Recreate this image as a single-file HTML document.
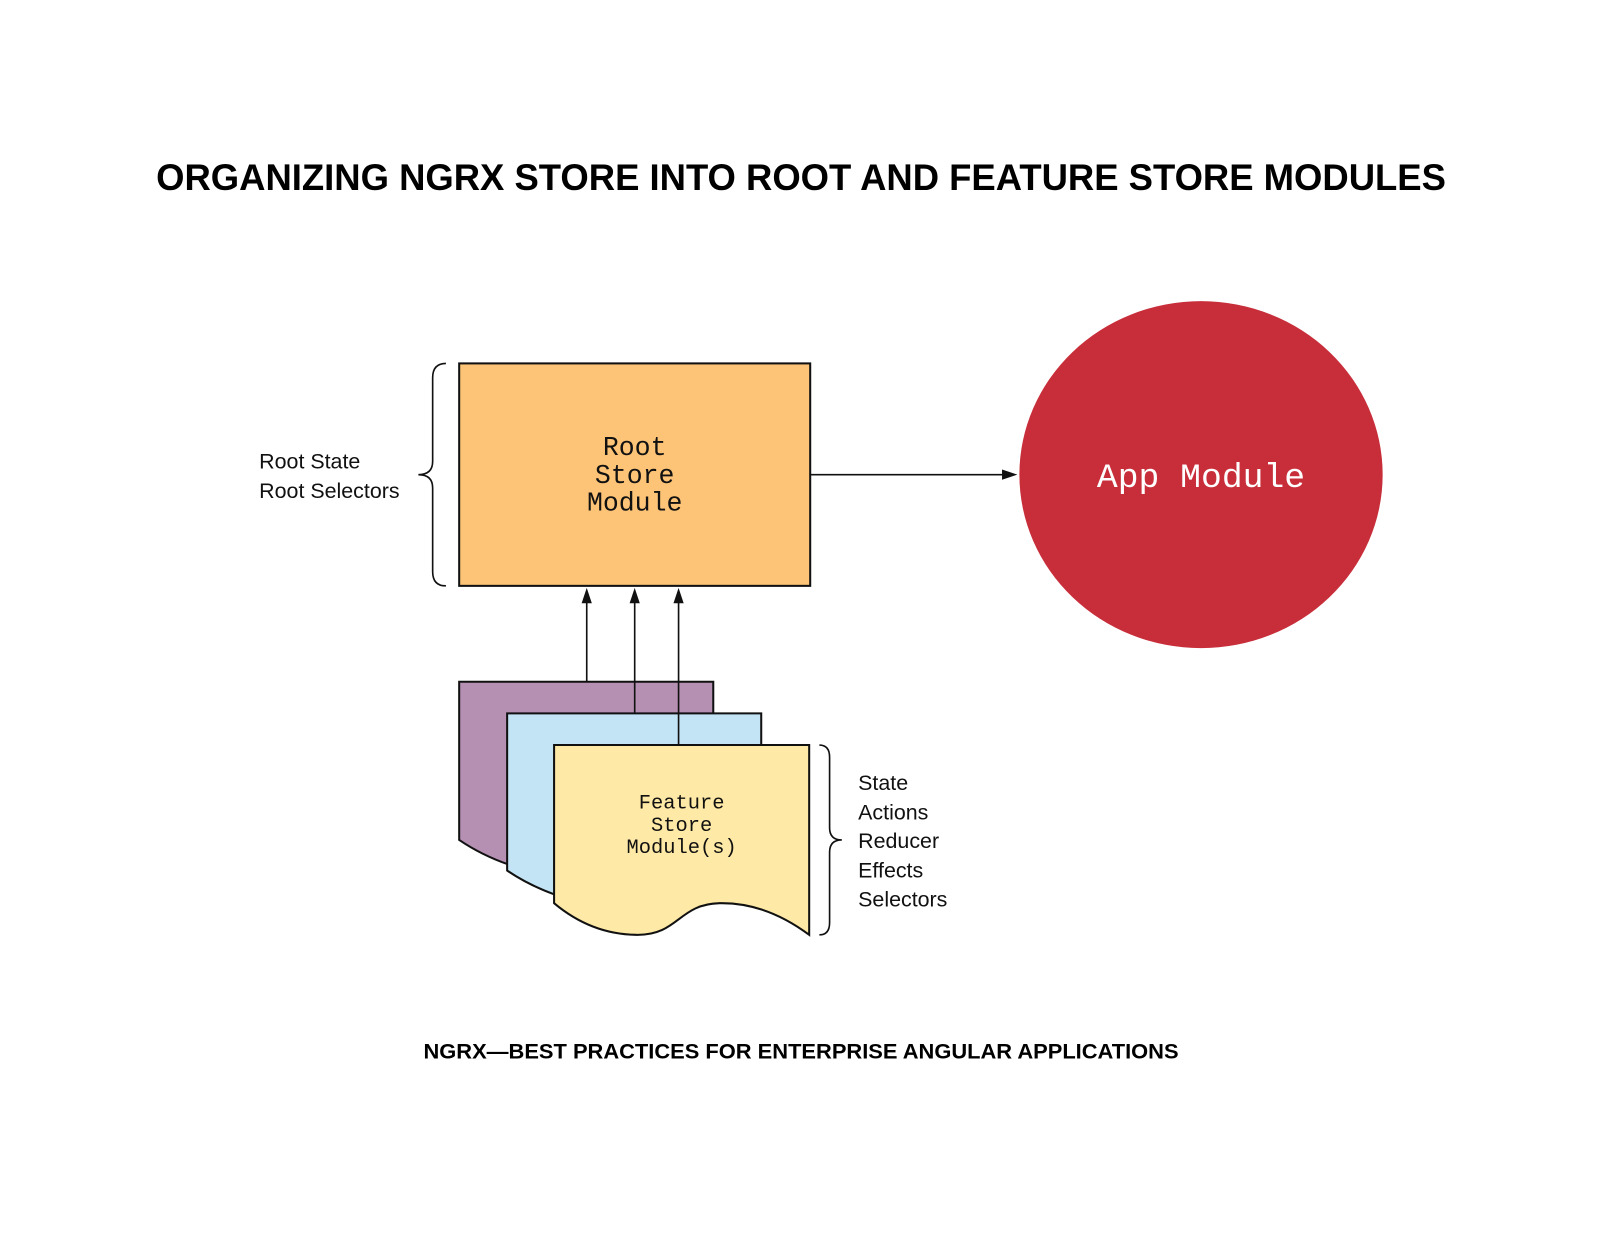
<!DOCTYPE html>
<html><head><meta charset="utf-8"><style>
html,body{margin:0;padding:0;background:#fff;}
svg{display:block}
</style></head><body>
<svg width="1600" height="1236" viewBox="0 0 1568 1211" xmlns="http://www.w3.org/2000/svg">
<rect width="1568" height="1211" fill="#fff"/>
<text x="153" y="186" textLength="1264" lengthAdjust="spacingAndGlyphs" font-family="Liberation Sans, sans-serif" font-weight="bold" font-size="36" fill="#000">ORGANIZING NGRX STORE INTO ROOT AND FEATURE STORE MODULES</text>

<rect x="450" y="356" width="344" height="218" fill="#FDC477" stroke="#111" stroke-width="2"/>
<g font-family="Liberation Mono, monospace" font-size="26" text-anchor="middle" fill="#111">
<text x="622" y="446">Root</text>
<text x="622" y="473">Store</text>
<text x="622" y="500">Module</text>
</g>

<line x1="794" y1="465" x2="985" y2="465" stroke="#111" stroke-width="1.6"/>
<polygon points="997,465 982,460 982,470" fill="#111"/>

<ellipse cx="1177" cy="465" rx="178" ry="170" fill="#C82E3A"/>
<text x="1177" y="477" font-family="Liberation Mono, monospace" font-size="34" text-anchor="middle" fill="#fff">App Module</text>

<path d="M437,356 Q424,356 424,370 L424,452 Q424,465 410,465 Q424,465 424,478 L424,560 Q424,574 437,574" fill="none" stroke="#111" stroke-width="1.6"/>
<g font-family="Liberation Sans, sans-serif" font-size="21" fill="#111">
<text x="254" y="459">Root State</text>
<text x="254" y="488">Root Selectors</text>
</g>

<path d="M450,668 L699,668 L699,850 L507,850 Q475,840 450,823 Z" fill="#B590B3" stroke="#111" stroke-width="2"/>
<path d="M497,699 L746,699 L746,880 L554,880 Q522,870 497,853 Z" fill="#C3E4F5" stroke="#111" stroke-width="2"/>
<path d="M543,730 L793,730 L793,916 Q750,884 705,885 C665,886 665,916 625,916 Q580,916 543,885 Z" fill="#FEE9A6" stroke="#111" stroke-width="2"/>
<g font-family="Liberation Mono, monospace" font-size="20" text-anchor="middle" fill="#111">
<text x="668" y="792">Feature</text>
<text x="668" y="814">Store</text>
<text x="668" y="836">Module(s)</text>
</g>

<g stroke="#111" stroke-width="1.6">
<line x1="575" y1="668" x2="575" y2="588"/>
<line x1="622" y1="699" x2="622" y2="588"/>
<line x1="665" y1="730" x2="665" y2="588"/>
</g>
<g fill="#111">
<polygon points="575,576 570,591 580,591"/>
<polygon points="622,576 617,591 627,591"/>
<polygon points="665,576 660,591 670,591"/>
</g>

<path d="M803,730 Q813,730 813,742 L813,811 Q813,823 825,823 Q813,823 813,835 L813,904 Q813,916 803,916" fill="none" stroke="#111" stroke-width="1.6"/>
<g font-family="Liberation Sans, sans-serif" font-size="21" fill="#111">
<text x="841" y="774">State</text>
<text x="841" y="803">Actions</text>
<text x="841" y="831">Reducer</text>
<text x="841" y="860">Effects</text>
<text x="841" y="888">Selectors</text>
</g>

<text x="415" y="1037" textLength="740" lengthAdjust="spacingAndGlyphs" font-family="Liberation Sans, sans-serif" font-weight="bold" font-size="21" fill="#000">NGRX—BEST PRACTICES FOR ENTERPRISE ANGULAR APPLICATIONS</text>
</svg>
</body></html>
